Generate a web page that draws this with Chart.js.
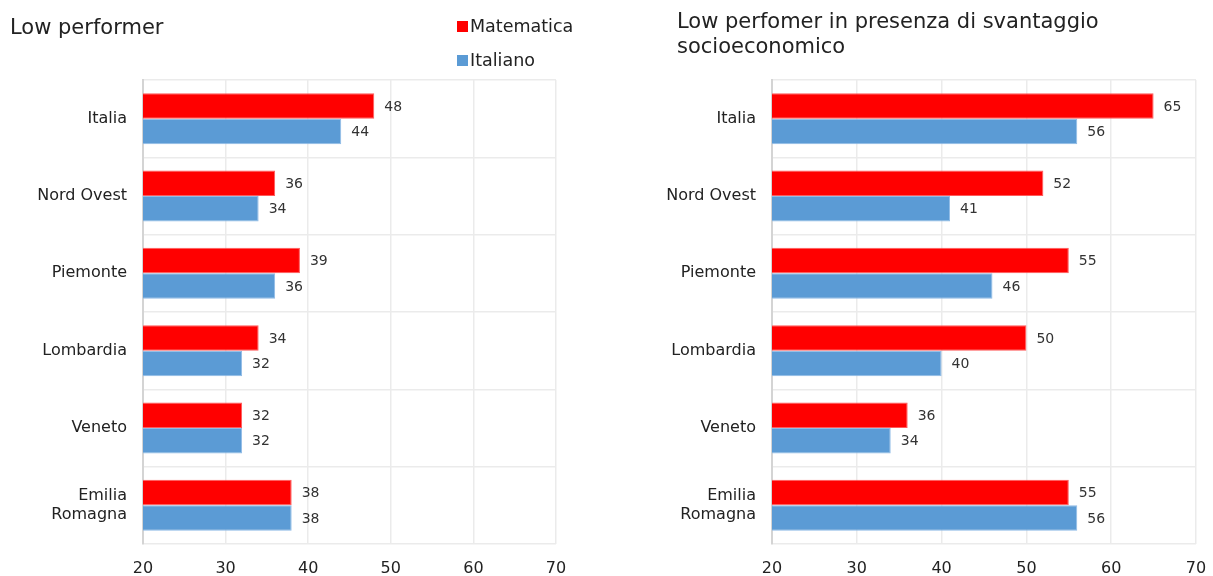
<!DOCTYPE html>
<html>
<head>
<meta charset="utf-8">
<script src="https://cdn.jsdelivr.net/npm/chart.js@4.4.0/dist/chart.umd.min.js"></script>
<style>
  body { margin: 0; background: #fff; font-family: "DejaVu Sans", sans-serif; color: #222; }
  #wrap { position: relative; width: 1213px; height: 576px; overflow: hidden; }
  .box { position: absolute; top: 0; }
  .titolo { position: absolute; font-size: 21px; line-height: 25px; color: #222; }
  #legenda { position: absolute; left: 457px; top: 9px; font-size: 17.5px; color: #222; }
  #legenda div { height: 34px; display: flex; align-items: center; }
  #legenda span { display: inline-block; width: 11px; height: 11px; margin-right: 2px; }
</style>
</head>
<body>
<div id="wrap">
  <div class="box" style="left:0;width:600px;height:576px"><canvas id="sinistra" width="600" height="576"></canvas></div>
  <div class="box" style="left:600px;width:613px;height:576px"><canvas id="destra" width="613" height="576"></canvas></div>
  <div class="titolo" style="left:10px;top:15px">Low performer</div>
  <div class="titolo" style="left:677px;top:9px">Low perfomer in presenza di svantaggio<br>socioeconomico</div>
  <div id="legenda"></div>
</div>
<script>
const regioni = ['Italia', 'Nord Ovest', 'Piemonte', 'Lombardia', 'Veneto', ['Emilia', 'Romagna']];
const serie = ['Matematica', 'Italiano'];
const colori = ['#ff0000', '#5b9bd5'];
const bordi = ['#ff5a5a', '#8fbbe6'];

// quota di low performer
const lowMatematica = [48, 36, 39, 34, 32, 38];
const lowItaliano = [44, 34, 36, 32, 32, 38];

// low performer con svantaggio socioeconomico
const svMatematica = [65, 52, 55, 50, 36, 55];
const svItaliano = [56, 41, 46, 40, 34, 56];

const asseMin = 20;
const asseMax = 70;
const passo = 10;

const font = 'DejaVu Sans';

// scrive il valore a destra di ogni barra
const etichette = {
  id: 'etichette',
  afterDatasetsDraw(chart) {
    const ctx = chart.ctx;
    ctx.save();
    ctx.font = '14px "' + font + '"';
    ctx.fillStyle = '#333';
    ctx.textBaseline = 'middle';
    ctx.textAlign = 'left';
    chart.data.datasets.forEach((ds, i) => {
      chart.getDatasetMeta(i).data.forEach((bar, j) => {
        ctx.fillText(ds.data[j], bar.x + 10, bar.y + 1);
      });
    });
    ctx.restore();
  }
};

function grafico(id, mat, ita, largAsseY, destra) {
  return new Chart(document.getElementById(id), {
    type: 'bar',
    data: {
      labels: regioni,
      datasets: [mat, ita].map((d, i) => ({
        label: serie[i],
        data: d,
        backgroundColor: colori[i],
        borderColor: bordi[i],
        borderWidth: 1,
        categoryPercentage: 0.66,
        barPercentage: 1
      }))
    },
    options: {
      indexAxis: 'y',
      responsive: false,
      animation: false,
      layout: { padding: { top: 80, right: destra, left: 0, bottom: 0 } },
      plugins: { legend: { display: false }, tooltip: { enabled: false } },
      scales: {
        x: {
          min: asseMin,
          max: asseMax,
          ticks: { stepSize: passo, padding: 15, color: '#222', font: { family: font, size: 16 } },
          grid: { color: '#ebebeb', lineWidth: 1.5, drawTicks: false },
          border: { display: false },
          afterFit(s) { s.height = 32; s.paddingLeft = 0; s.paddingRight = 0; }
        },
        y: {
          ticks: { padding: 16, color: '#222', font: { family: font, size: 16 } },
          grid: { color: '#ebebeb', lineWidth: 1.5, drawTicks: false, offset: true },
          border: { color: '#d4d4d4', width: 2 },
          afterFit(s) { s.width = largAsseY; }
        }
      }
    },
    plugins: [etichette]
  });
}

grafico('sinistra', lowMatematica, lowItaliano, 143, 44);
grafico('destra', svMatematica, svItaliano, 172, 17);

// legenda comune
const leg = document.getElementById('legenda');
serie.forEach((nome, i) => {
  const riga = document.createElement('div');
  riga.innerHTML = '<span style="background:' + colori[i] + '"></span>' + nome;
  leg.appendChild(riga);
});
</script>
</body>
</html>
